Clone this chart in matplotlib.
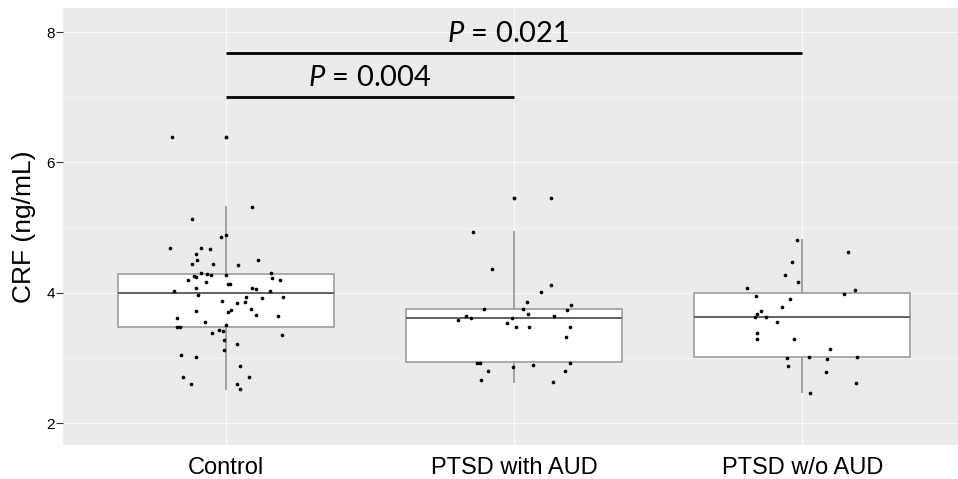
import matplotlib
matplotlib.use("Agg")
import matplotlib.pyplot as plt
import numpy as np

# --- data ---
groups = ["Control", "PTSD with AUD", "PTSD w/o AUD"]

# box statistics per group
box_q1 = [3.48, 2.94, 3.01]
box_med = [4.00, 3.61, 3.63]
box_q3 = [4.29, 3.76, 4.00]
box_lo = [2.53, 2.63, 2.48]
box_hi = [5.31, 4.94, 4.81]
box_out = [[6.39], [5.46], []]

# jittered points: horizontal jitter (category units) and CRF values
control_jit = [-0.188, 0.092, -0.117, -0.018, -0.001, -0.195, -0.085, -0.055, -0.104, -0.099,
               0.111, -0.119, -0.045, 0.042, 0.001, -0.110, -0.102, -0.085, -0.067, -0.052,
               -0.131, -0.068, 0.157, 0.161, 0.189, 0.007, 0.016, -0.105, 0.090, 0.104,
               0.154, -0.179, -0.096, 0.069, 0.127, 0.198, -0.012, 0.068, 0.039, 0.087,
               0.017, 0.009, -0.104, 0.104, 0.181, -0.168, -0.072, 0.001, -0.169, -0.158,
               -0.049, -0.024, -0.009, 0.195, -0.007, 0.038, -0.008, -0.154, -0.102, 0.049,
               -0.149, 0.081, -0.121, 0.037, 0.050]
control_val = [6.39, 5.31, 5.14, 4.86, 4.88, 4.69, 4.69, 4.67, 4.60, 4.50,
               4.51, 4.44, 4.45, 4.42, 4.28, 4.26, 4.24, 4.31, 4.29, 4.27,
               4.20, 4.17, 4.31, 4.23, 4.20, 4.13, 4.14, 4.08, 4.07, 4.06,
               4.03, 4.03, 3.97, 3.94, 3.92, 3.93, 3.87, 3.86, 3.84, 3.75,
               3.73, 3.70, 3.72, 3.66, 3.64, 3.62, 3.55, 3.51, 3.48, 3.47,
               3.39, 3.43, 3.42, 3.35, 3.28, 3.22, 3.13, 3.04, 3.02, 2.88,
               2.71, 2.71, 2.60, 2.60, 2.52]

aud_jit = [0.127, -0.141, -0.077, 0.128, 0.095, 0.044, 0.196, -0.105, 0.031, 0.184,
           0.049, -0.166, -0.151, 0.139, -0.007, -0.194, -0.023, 0.006, 0.050, 0.195,
           0.181, -0.128, -0.117, 0.195, -0.005, 0.064, -0.091, 0.178, -0.114, 0.136]
aud_val = [5.46, 4.94, 4.36, 4.12, 4.01, 3.86, 3.81, 3.75, 3.75, 3.73,
           3.67, 3.64, 3.62, 3.65, 3.62, 3.58, 3.54, 3.48, 3.47, 3.47,
           3.33, 2.93, 2.93, 2.93, 2.87, 2.90, 2.80, 2.80, 2.67, 2.63]

noaud_jit = [-0.020, 0.158, -0.036, -0.061, -0.015, -0.191, 0.183, 0.143, -0.161, -0.043,
             -0.069, -0.143, -0.159, -0.164, -0.125, -0.089, -0.158, -0.157, -0.028, 0.097,
             -0.053, 0.022, 0.087, 0.188, -0.051, 0.082, 0.185, 0.027]
noaud_val = [4.81, 4.62, 4.47, 4.28, 4.16, 4.08, 4.05, 3.98, 3.95, 3.91,
             3.79, 3.72, 3.68, 3.63, 3.63, 3.55, 3.39, 3.29, 3.29, 3.14,
             3.00, 3.01, 2.98, 3.01, 2.88, 2.79, 2.62, 2.47]

# pairwise comparisons: (group a, group b, bar height, text x, p-value)
cmp_a = [1, 1]
cmp_b = [2, 3]
cmp_y = [7.00, 7.68]
cmp_text_x = [1.5, 1.98]
cmp_p = ["0.004", "0.021"]

plt.rcParams['font.family'] = ['Liberation Sans', 'DejaVu Sans']
plt.rcParams['mathtext.fontset'] = 'custom'
plt.rcParams['mathtext.it'] = 'Lato:italic'
plt.rcParams['mathtext.rm'] = 'Lato'

fig = plt.figure(figsize=(9.58, 4.79), dpi=100)
ax = fig.add_axes([63 / 958, 34 / 479, 895 / 958, 437 / 479])
ax.set_facecolor('#EBEBEB')

# grid (ggplot-like)
for y in [3, 5, 7]:
    ax.axhline(y, color='#F7F7F7', lw=0.5, zorder=0)
for y in [2, 4, 6, 8]:
    ax.axhline(y, color='#FAFAFA', lw=0.9, zorder=0)
for x in [1, 2, 3]:
    ax.axvline(x, color='#FAFAFA', lw=0.9, zorder=0)

stats = []
for i in range(3):
    stats.append(dict(med=box_med[i], q1=box_q1[i], q3=box_q3[i],
                      whislo=box_lo[i], whishi=box_hi[i], fliers=box_out[i]))

ax.bxp(stats, positions=[1, 2, 3], widths=0.75, patch_artist=True, showcaps=False,
       boxprops=dict(facecolor='white', edgecolor='#959595', linewidth=1.1),
       medianprops=dict(color='#606060', linewidth=1.4),
       whiskerprops=dict(color='#a0a0a0', linewidth=1.4),
       flierprops=dict(marker='o', markersize=2.8, markerfacecolor='black',
                       markeredgewidth=0, linestyle='none'),
       zorder=2)

for k, (jit, val) in enumerate([(control_jit, control_val), (aud_jit, aud_val),
                                (noaud_jit, noaud_val)]):
    ax.scatter(k + 1 + np.array(jit), val, s=7, color='black', zorder=3, linewidths=0)

# significance bars
for a, b, y, tx, p in zip(cmp_a, cmp_b, cmp_y, cmp_text_x, cmp_p):
    ax.plot([a, b], [y, y], color='black', lw=2.0, solid_capstyle='butt', zorder=4)
    ax.text(tx, y + 0.09, f"$P$ = {p}", ha='center', va='bottom', fontsize=21,
            fontfamily='Lato', zorder=4)

ax.set_xlim(0.435, 3.54)
ax.set_ylim(1.666, 8.37)
ax.set_xticks([1, 2, 3])
ax.set_xticklabels(groups, fontsize=17)
ax.set_yticks([2, 4, 6, 8])
ax.set_yticklabels(['2', '4', '6', '8'], fontsize=11)
ax.tick_params(axis='x', length=0, pad=9)
ax.tick_params(axis='y', length=5, color='#333333', pad=1)
ax.set_ylabel('CRF (ng/mL)', fontsize=19, labelpad=7)

for s in ax.spines.values():
    s.set_visible(False)

fig.savefig('out.png', dpi=100)
